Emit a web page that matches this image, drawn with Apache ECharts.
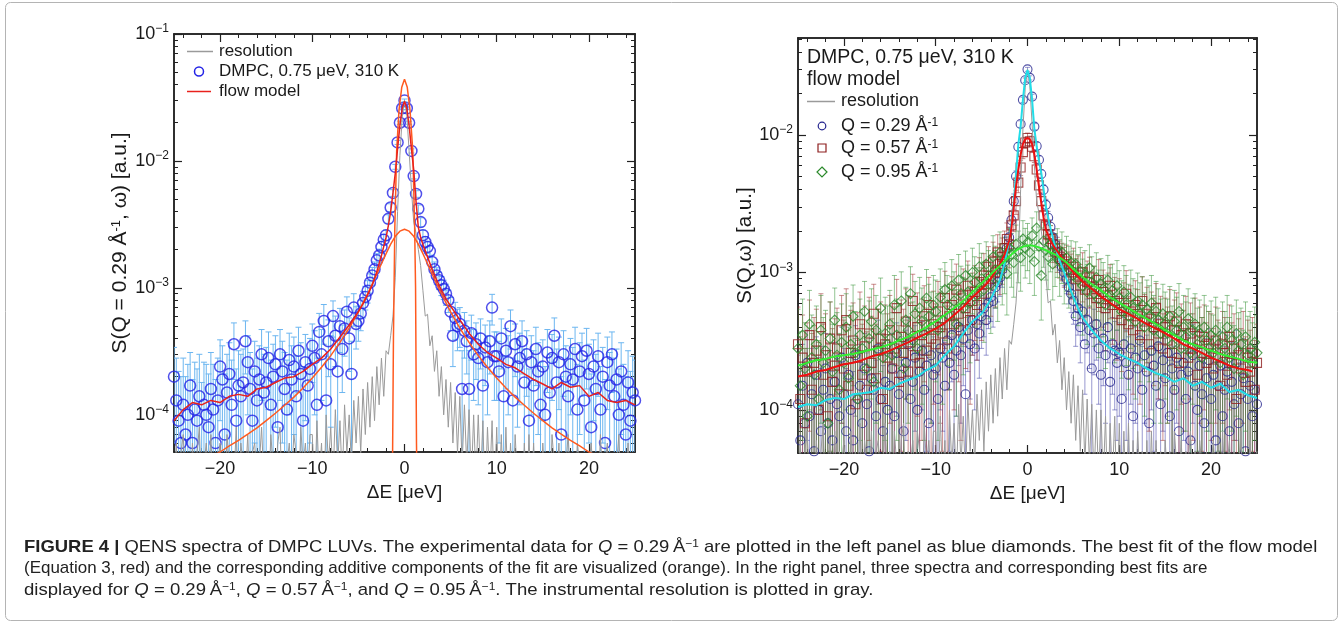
<!DOCTYPE html>
<html>
<head>
<meta charset="utf-8">
<title>QENS spectra of DMPC LUVs</title>
<script src="https://cdn.jsdelivr.net/npm/echarts@6/dist/echarts.min.js"></script>
<style>
  html, body { margin: 0; padding: 0; background: #fff; }
  #chart { width: 1344px; height: 625px; }
</style>
</head>
<body>
<div id="chart"></div>
<script>
// all intensities below are in units of 1e-5 (a.u.)
const UNIT = 1e-5;

// energy transfer channels, -25 .. 25 ueV in 0.25 steps (201 channels)
const energies = [];
for (let i = 0; i <= 200; i++) energies.push(-25 + i * 0.25);

const xMajor = [-20, -10, 0, 10, 20];
const xMinor = [-24, -22, -18, -16, -14, -12, -8, -6, -4, -2, 2, 4, 6, 8, 12, 14, 16, 18, 22, 24];
const yMajor = [1e-4, 1e-3, 1e-2, 1e-1];
const yMinor = [6e-5, 7e-5, 8e-5, 9e-5,
  2e-4, 3e-4, 4e-4, 5e-4, 6e-4, 7e-4, 8e-4, 9e-4,
  2e-3, 3e-3, 4e-3, 5e-3, 6e-3, 7e-3, 8e-3, 9e-3,
  2e-2, 3e-2, 4e-2, 5e-2, 6e-2, 7e-2, 8e-2, 9e-2];

// instrumental resolution (gray)
const resolution = [
  3,6,2,5,7,3,4,2,6,3,5,8,2,4,6,3,7,2,5,4,
  6,3,2,7,4,5,3,8,2,6,4,3,7,2,5,6,3,4,8,3,
  5,2,7,4,3,6,8,2,5,4,6,3,7,5,2,8,4,6,3,7,
  7,2,9,3,6,2,10,4,8,3,11,4,9,3,12,5,10,4,13,6,
  14,5,16,7,18,8,20,9,24,12,28,14,32,30,42,60,120,400,1100,2200,
  3000,2300,1200,600,330,270,200,150,95,60,62,35,42,22,32,14,24,10,19,8,
  18,6,15,5,14,4,12,4,11,3,10,3,10,3,9,2,8,3,9,2,
  8,2,7,2,8,2,6,2,7,3,5,2,6,2,7,2,6,2,5,2,
  6,3,5,2,7,4,3,6,2,5,4,7,3,5,2,6,4,3,5,2,
  4,6,3,5,2,7,3,4,6,2,5,3,4,7,2,5,3,6,2,4,
  5];

// left panel: DMPC, Q = 0.29 1/A
const dmpc = [
  20,13,9,6,12,7,10,17,6,11,9,14,5,12,10,8,16,11,6,13,
  24,19,7,15,21,12,36,9,17,14,18,38,26,16,9,22,13,19,30,15,
  18,28,12,20,25,8,30,22,16,11,27,19,24,14,32,21,9,26,17,23,
  35,28,12,45,30,55,13,38,25,60,42,22,50,33,48,65,40,21,70,52,
  55,63,76,85,95,110,125,140,165,180,210,240,260,350,430,560,900,1400,2000,2600,
  3000,2600,2000,1200,760,550,420,330,260,230,210,195,160,140,125,115,105,98,90,80,
  65,42,58,50,52,16,46,38,16,44,30,36,28,40,17,34,26,38,70,29,
  29,22,40,14,32,26,50,13,36,24,28,38,18,30,9,26,17,33,22,12,
  24,10,31,15,28,42,18,26,7,30,20,14,25,19,33,11,22,29,13,32,
  21,8,24,16,29,11,20,6,26,17,30,14,19,10,22,12,7,18,9,15,
  13];
const dmpcErr = [
  14,15,13,14,16,13,15,14,13,15,14,16,13,14,15,13,15,14,13,15,
  15,16,14,15,16,15,17,14,15,16,15,17,16,15,14,16,15,16,17,15,
  16,17,15,16,17,15,17,16,15,16,17,16,17,15,17,16,15,17,16,17,
  17,18,16,18,17,19,16,18,17,19,18,17,19,18,19,20,18,17,20,19,
  17,17,18,18,19,19,20,20,21,22,23,24,25,27,30,34,40,50,60,70,
  75,65,55,45,38,33,30,27,25,24,23,22,21,20,19,18,18,17,17,16,
  19,18,19,18,18,16,18,17,16,17,17,17,16,17,16,17,16,17,19,16,
  16,16,17,15,16,16,17,15,16,16,16,17,15,16,14,16,15,16,15,14,
  15,14,16,15,15,16,15,15,13,16,15,14,15,15,16,14,15,15,14,16,
  15,13,15,14,15,13,14,13,15,14,15,14,14,13,15,13,13,14,13,14,
  14];

const flowX = [-25,-24,-23,-22,-21,-20,-19,-18,-17,-16,-15,-14,-13,-12,-11,-10,-9,-8,-7,-6,-5,-4.5,-4,-3.5,-3,-2.5,-2,-1.75,-1.5,-1.25,-1,-0.75,-0.5,-0.25,0,0.25,0.5,0.75,1,1.25,1.5,1.75,2,2.5,3,3.5,4,4.5,5,6,7,8,9,10,11,12,13,14,15,16,17,18,19,20,21,22,23,24,25];
const flowFit = [9,11,12.5,12,13,12.5,14,14.5,14,16,16.5,18,19.5,20,22,25,28,33,41,51,65,75,88,105,135,180,250,310,400,560,800,1250,1900,2600,2950,2600,1900,1250,850,480,300,250,220,175,140,115,96,82,72,56,44,36,31,28,25,23.5,21,19,17.5,16,18,16.5,17,14,15,13,12.5,13,12];

const broadX = [-25,-24,-23,-22,-21,-20,-19,-18,-17,-16,-15,-14,-13,-12,-11,-10,-9,-8,-7,-6,-5,-4,-3.5,-3,-2.5,-2,-1.5,-1,-0.5,0,0.5,1,1.5,2,2.5,3,3.5,4,5,6,7,8,9,10,11,12,13,14,15,16,17,18,19,20,21,22,23,24,25];
const broadFit = [3.3,3.6,3.9,4.25,4.7,5.1,5.7,6.3,7.05,7.9,9,10.3,11.9,13.8,16.3,19.5,23.7,29.3,37.2,48.3,64.8,90,107,129,155,186,221,255,280,290,280,255,221,186,155,129,107,90,64.8,48.3,37.2,29.3,23.7,19.5,16.3,13.8,11.9,10.3,9,7.9,7.05,6.3,5.7,5.1,4.7,4.25,3.9,3.6,3.3];

const narrowX = [-1.5,-1.3,-1.2,-1.05,-0.85,-0.6,-0.3,0,0.3,0.6,0.9,1.1,1.2,1.3,1.5];
const narrowFit = [0.5,4,40,300,1200,2500,3800,4400,3800,2500,1200,300,100,6,0.5];

// right panel: three momentum transfers
const q029 = [
  11,6,15,8,22,9,13,5,18,10,7,14,20,8,12,6,16,11,9,24,
  13,7,18,10,6,25,12,15,8,20,11,5,17,14,9,28,12,7,16,10,
  15,20,9,26,13,18,7,22,30,12,16,24,10,19,27,14,21,8,25,18,
  20,12,28,24,15,32,22,35,18,27,40,25,33,13,38,30,45,28,42,36,
  48,55,45,60,66,62,78,85,92,105,120,150,180,240,330,500,820,1200,1800,2500,
  3000,2600,1900,1150,830,660,520,400,310,250,215,180,160,140,125,110,100,90,78,70,
  62,48,55,40,52,30,45,38,20,36,42,28,18,33,25,40,16,30,27,22,
  26,12,30,22,18,28,9,24,20,32,14,25,19,8,27,21,15,29,11,23,
  17,26,9,20,14,24,7,18,22,12,19,6,25,15,10,21,13,8,17,23,
  12,18,6,15,21,9,14,19,7,16,11,22,8,13,17,5,12,15,9,14,
  11];
const q029Err = [
  14,13,15,14,16,13,15,13,16,14,13,15,16,14,15,13,15,14,13,16,
  15,13,16,14,13,16,15,15,14,16,15,13,16,15,14,17,15,14,16,15,
  16,16,15,17,15,16,14,16,17,15,16,17,15,16,17,16,16,15,17,16,
  17,16,18,17,16,18,17,19,16,18,19,17,18,16,19,18,20,18,19,19,
  20,21,20,21,22,22,23,24,25,27,29,31,34,38,42,48,56,66,80,95,
  100,90,75,60,50,42,37,33,30,28,26,25,24,23,22,21,20,20,19,19,
  20,19,20,18,20,17,19,18,16,18,19,17,16,18,17,18,16,17,17,16,
  17,15,17,16,16,17,14,16,16,17,15,17,16,14,17,16,15,17,15,16,
  16,17,14,16,15,16,13,16,16,15,16,13,17,15,14,16,15,14,16,16,
  15,16,13,15,16,14,15,16,13,15,15,16,14,15,16,13,15,15,14,15,
  15];
const q057 = [
  30,12,24,8,19,35,14,22,27,10,40,18,25,9,33,16,21,28,13,38,
  20,45,15,26,32,11,24,42,18,29,14,36,22,50,17,27,33,12,30,24,
  38,20,28,55,16,34,26,44,19,31,62,25,40,22,35,48,27,58,33,42,
  30,52,40,36,65,28,48,58,42,75,50,38,68,55,80,45,62,72,58,85,
  70,95,82,110,90,120,100,140,115,130,150,175,160,220,260,330,450,580,750,880,
  950,900,820,700,560,430,330,260,220,190,175,160,150,140,130,125,115,120,105,100,
  110,90,95,80,100,75,85,92,70,78,65,88,60,72,55,68,80,58,62,50,
  60,45,55,70,42,52,38,58,48,35,62,44,50,30,46,40,55,36,42,28,
  40,32,48,26,38,44,22,35,30,42,24,36,28,40,18,32,26,34,22,30,
  28,20,32,24,15,30,26,18,34,22,28,12,25,20,30,16,24,19,26,14,
  22];
const q057Err = [
  26,22,25,20,24,28,22,25,27,21,30,24,25,21,28,23,25,27,22,30,
  25,31,23,27,28,22,27,30,24,28,23,30,26,32,25,27,28,23,28,26,
  30,26,28,34,25,29,28,32,26,29,35,27,31,26,29,32,28,34,29,31,
  29,34,32,31,37,29,34,35,32,40,34,32,38,35,41,34,37,40,35,43,
  38,42,40,44,42,46,44,48,46,48,50,54,52,58,62,66,70,74,78,80,
  82,80,76,70,64,58,54,50,47,45,44,42,41,40,39,38,37,38,36,36,
  40,36,37,34,39,33,36,37,32,33,31,36,29,32,28,31,34,28,30,27,
  30,26,29,33,25,28,25,29,27,24,31,25,28,23,26,25,28,24,25,22,
  25,24,27,22,25,27,21,24,23,25,21,24,22,25,20,24,21,24,21,22,
  22,19,24,21,18,22,21,19,24,21,22,18,21,19,22,18,21,19,21,18,
  20];
const q095 = [
  28,15,35,20,9,42,24,18,30,12,38,22,27,8,33,19,45,25,14,31,
  22,40,17,30,48,26,12,35,28,52,20,33,44,16,38,27,55,24,36,30,
  42,25,58,35,30,62,20,45,38,70,32,50,28,55,44,36,65,48,40,58,
  52,38,66,45,75,58,48,80,62,42,88,70,55,95,72,60,100,85,68,110,
  90,75,115,95,82,130,105,92,140,110,125,98,150,135,118,160,142,128,175,150,
  165,140,185,120,210,155,95,170,145,130,160,115,135,150,120,140,110,128,105,118,
  95,115,88,102,80,96,72,108,85,70,92,64,82,76,58,88,68,74,60,80,
  65,52,72,58,48,66,55,44,62,50,58,40,54,48,60,38,52,45,36,50,
  42,36,48,30,44,38,52,28,40,34,46,26,38,42,30,36,24,40,32,28,
  35,26,38,30,22,34,28,40,24,32,20,36,27,30,18,34,25,28,22,31,
  26];
const q095Err = [
  26,22,29,23,19,32,25,23,27,20,30,25,26,19,28,23,32,26,22,28,
  25,30,23,27,33,26,20,29,26,34,25,29,32,23,30,27,36,26,30,27,
  32,26,37,29,27,39,25,33,30,40,29,36,27,37,33,30,40,34,32,37,
  36,32,40,34,43,37,34,44,39,33,47,41,37,48,41,38,50,45,40,52,
  48,44,52,49,46,55,50,48,57,52,55,49,59,57,52,61,58,55,63,59,
  62,57,64,52,66,59,50,61,57,55,59,52,56,58,53,57,51,55,50,52,
  48,52,47,50,45,48,42,51,45,41,47,40,44,42,38,45,40,41,38,42,
  38,35,40,37,34,38,35,32,37,34,35,31,34,32,35,30,34,31,28,32,
  30,28,31,27,30,28,31,25,28,27,30,24,27,28,25,27,23,28,25,24,
  27,23,28,25,21,27,24,28,23,25,21,27,24,25,20,27,23,24,21,25,
  23];

const fit029X = [-25,-24,-23,-22,-21,-20,-19,-18,-17,-16,-15,-14,-13,-12,-11,-10,-9,-8,-7,-6,-5,-4.5,-4,-3.5,-3,-2.5,-2,-1.75,-1.5,-1.25,-1,-0.75,-0.5,-0.25,0,0.25,0.5,0.75,1,1.25,1.5,1.75,2,2.5,3,3.5,4,4.5,5,5.5,6,7,8,9,10,11,12,13,14,15,16,17,18,19,20,21,22,23,24,25];
const fit029 = [10.5,11,10.8,11.8,12.2,12,13,13.2,13.5,14.5,14.2,15.5,16.5,17.5,19.5,21,25,29,36,44,50,56,64,75,88,115,170,230,320,520,850,1150,1800,2600,2970,2600,1800,1100,820,650,530,400,300,210,155,122,100,80,66,55,47,38,32,28,25.5,23.5,22,20,18.5,17.5,16,17,15,16,14.5,15.5,13.5,14,12.8,12.2];
const fit057X = [-25,-24,-23,-22,-21,-20,-19,-18,-17,-16,-15,-14,-13,-12,-11,-10,-9,-8,-7,-6,-5,-4.5,-4,-3.5,-3,-2.5,-2,-1.75,-1.5,-1.25,-1,-0.75,-0.5,-0.25,0,0.25,0.5,0.75,1,1.25,1.5,1.75,2,2.5,3,3.5,4,4.5,5,6,7,8,9,10,11,12,13,14,15,16,17,18,19,20,21,22,23,24,24.5];
const fit057 = [17.5,18,19,19.5,20.5,21.5,22,23,24.5,25.5,27,29,31,33.5,36,39,43,49,56,66,76,82,90,102,115,135,170,210,300,420,560,720,860,930,950,930,860,720,560,420,320,250,205,170,150,135,122,110,100,86,76,67,60,54,50,46,42,39,36,33,30,28,26,24,22.5,21,20,19.5,19];
const fit095X = [-25,-24,-23,-22,-21,-20,-19,-18,-17,-16,-15,-14,-13,-12,-11,-10,-9,-8,-7,-6,-5,-4,-3,-2,-1.5,-1,-0.5,0,0.5,1,1.5,2,3,4,5,6,7,8,9,10,11,12,13,14,15,16,17,18,19,20,21,22,23,24,25];
const fit095 = [21,22,23,23.5,24.5,25,25.5,26.5,27.5,28.5,30,32,34,37,40,44,49,55,62,72,83,97,112,130,140,148,154,157,157,154,150,145,135,122,106,93,82,74,66,60,55,50,46,42,38,35,32,30,28.5,27,25.5,24.5,23.5,22.5,22];

const captionLines = [
  '{b|FIGURE 4 |} QENS spectra of DMPC LUVs. The experimental data for {i|Q} = 0.29\u2009Å{s|\u22121} are plotted in the left panel as blue diamonds. The best fit of the flow model',
  '(Equation 3, red) and the corresponding additive components of the fit are visualized (orange). In the right panel, three spectra and corresponding best fits are',
  'displayed for {i|Q} = 0.29\u2009Å{s|\u22121}, {i|Q} = 0.57\u2009Å{s|\u22121}, and {i|Q} = 0.95\u2009Å{s|\u22121}. The instrumental resolution is plotted in gray.'
];

const FONT = "'Liberation Sans', Arial, Helvetica, sans-serif";
const INK = '#1a1a1a';

const toPts = (xs, ys) => xs.map((x, i) => [x, ys[i] * UNIT]);
const toBars = (xs, ys, es) => xs.map((x, i) => [x, Math.max((ys[i] - es[i]) * UNIT, 1e-7), (ys[i] + es[i]) * UNIT]);

const fmtX = v => (v < 0 ? '\u2212' + Math.abs(v) : String(v));
const fmtPow = v => '{b|10}{s|\u2212' + Math.abs(Math.round(Math.log10(v))) + '}';
const powRich = {
  b: { fontSize: 18, color: INK, fontFamily: FONT, lineHeight: 22 },
  s: { fontSize: 12, color: INK, fontFamily: FONT, verticalAlign: 'top', lineHeight: 14 }
};

function xAxes(gi) {
  const base = {
    gridIndex: gi, type: 'value', min: -25, max: 25,
    splitLine: { show: false },
    axisLine: { show: true, onZero: false, lineStyle: { color: '#222', width: 1.5 } }
  };
  const major = { inside: true, length: 8, customValues: xMajor, lineStyle: { color: '#222', width: 1.2 } };
  const minor = { inside: true, length: 4, customValues: xMinor, lineStyle: { color: '#222', width: 1 } };
  return [
    Object.assign({}, base, {
      position: 'bottom', name: '\u0394E [\u03bceV]', nameLocation: 'middle', nameGap: 31,
      nameTextStyle: { fontSize: 19, color: INK, fontFamily: FONT },
      axisTick: major,
      axisLabel: { customValues: xMajor, formatter: fmtX, fontSize: 18, color: INK, fontFamily: FONT, margin: 8 }
    }),
    Object.assign({}, base, { position: 'bottom', axisTick: minor, axisLabel: { show: false } }),
    Object.assign({}, base, { position: 'top', axisTick: major, axisLabel: { show: false } }),
    Object.assign({}, base, { position: 'top', axisTick: minor, axisLabel: { show: false } })
  ];
}

function yAxes(gi, min, max, name, nameGap, nameSize) {
  const base = {
    gridIndex: gi, type: 'log', logBase: 10, min: min, max: max,
    splitLine: { show: false },
    axisLine: { show: true, onZero: false, lineStyle: { color: '#222', width: 1.5 } }
  };
  const major = { inside: true, length: 8, customValues: yMajor, lineStyle: { color: '#222', width: 1.2 } };
  const minor = { inside: true, length: 4, customValues: yMinor, lineStyle: { color: '#222', width: 1 } };
  return [
    Object.assign({}, base, {
      position: 'left', name: name, nameLocation: 'middle', nameGap: nameGap, nameRotate: 90,
      nameTextStyle: {
        fontSize: nameSize, color: INK, fontFamily: FONT,
        rich: { s: { fontSize: 13, color: INK, fontFamily: FONT, verticalAlign: 'top', lineHeight: 14 } }
      },
      axisTick: major,
      axisLabel: { customValues: yMajor, formatter: fmtPow, margin: 5, rich: powRich }
    }),
    Object.assign({}, base, { position: 'left', axisTick: minor, axisLabel: { show: false } }),
    Object.assign({}, base, { position: 'right', axisTick: major, axisLabel: { show: false } }),
    Object.assign({}, base, { position: 'right', axisTick: minor, axisLabel: { show: false } })
  ];
}

function errorBars(name, axis, data, color, cap) {
  return {
    type: 'custom', name: name, xAxisIndex: axis, yAxisIndex: axis, clip: true, silent: true,
    encode: { x: 0, y: [1, 2] },
    renderItem: function (params, api) {
      const x = api.value(0);
      const lo = api.coord([x, api.value(1)]);
      const hi = api.coord([x, api.value(2)]);
      const st = { stroke: color, lineWidth: 1 };
      return {
        type: 'group',
        children: [
          { type: 'line', shape: { x1: lo[0], y1: lo[1], x2: hi[0], y2: hi[1] }, style: st },
          { type: 'line', shape: { x1: hi[0] - cap, y1: hi[1], x2: hi[0] + cap, y2: hi[1] }, style: st },
          { type: 'line', shape: { x1: lo[0] - cap, y1: lo[1], x2: lo[0] + cap, y2: lo[1] }, style: st }
        ]
      };
    },
    data: data
  };
}

function points(name, axis, data, symbol, size, color, width) {
  return {
    type: 'scatter', name: name, xAxisIndex: axis, yAxisIndex: axis, symbol: symbol, symbolSize: size,
    itemStyle: { color: 'rgba(0,0,0,0)', borderColor: color, borderWidth: width },
    silent: true, data: data
  };
}

function curve(name, axis, data, color, width) {
  return {
    type: 'line', name: name, xAxisIndex: axis, yAxisIndex: axis, showSymbol: false, symbol: 'none',
    lineStyle: { color: color, width: width }, silent: true, data: data
  };
}

const supRich = { s: { fontSize: 12, fontFamily: FONT, fill: INK, verticalAlign: 'top', lineHeight: 12 } };
function label(x, y, text, size) {
  return { type: 'text', x: x, y: y, style: { text: text, fontSize: size, fontFamily: FONT, fill: INK, verticalAlign: 'middle', rich: supRich } };
}
function legendLine(x1, x2, y, color) {
  return { type: 'line', shape: { x1: x1, y1: y, x2: x2, y2: y }, style: { stroke: color, lineWidth: 1.5 } };
}

const capRich = {
  b: { fontWeight: 'bold', fontSize: 17, fontFamily: FONT, fill: '#222' },
  i: { fontStyle: 'italic', fontSize: 17, fontFamily: FONT, fill: '#222' },
  s: { fontSize: 11, fontFamily: FONT, fill: '#222', verticalAlign: 'top', lineHeight: 12 }
};
function captionLine(y, text, sx) {
  return {
    type: 'text', x: 24, y: y, scaleX: sx,
    style: { text: text, fontSize: 17, fontFamily: FONT, fill: '#222', verticalAlign: 'middle', rich: capRich }
  };
}

const chart = echarts.init(document.getElementById('chart'));
chart.setOption({
  animation: false,
  backgroundColor: '#fff',
  grid: [
    { left: 174, top: 34, width: 461, height: 418, outerBoundsMode: 'none' },
    { left: 798, top: 38, width: 459, height: 415, outerBoundsMode: 'none' }
  ],
  xAxis: xAxes(0).concat(xAxes(1)),
  yAxis: yAxes(0, 5.1e-5, 0.1, 'S(Q = 0.29 Å{s|-1}, \u03c9) [a.u.]', 43, 21)
    .concat(yAxes(1, 4.86e-5, 0.0507, 'S(Q,\u03c9) [a.u.]', 41, 20.5)),
  series: [
    // left panel
    errorBars('dmpc err', 0, toBars(energies, dmpc, dmpcErr), '#6cb6f0', 3),
    curve('resolution', 0, toPts(energies, resolution), '#9a9a9a', 1),
    points('DMPC, 0.75 \u03bceV, 310 K', 0, toPts(energies, dmpc), 'circle', 11, '#2323e6', 1.5),
    curve('broad', 0, toPts(broadX, broadFit), '#ff5a1f', 1.5),
    curve('narrow', 0, toPts(narrowX, narrowFit), '#ff5a1f', 1.5),
    curve('flow model', 0, toPts(flowX, flowFit), '#e8211c', 1.5),
    // right panel
    curve('resolution R', 4, toPts(energies, resolution), '#9a9a9a', 1),
    errorBars('q029 err', 4, toBars(energies, q029, q029Err), 'rgba(70,70,170,0.55)', 2.5),
    points('Q = 0.29', 4, toPts(energies, q029), 'circle', 9, '#24248e', 1.1),
    errorBars('q057 err', 4, toBars(energies, q057, q057Err), 'rgba(160,50,50,0.55)', 2.5),
    points('Q = 0.57', 4, toPts(energies, q057), 'rect', 9, '#8e1e1e', 1.1),
    errorBars('q095 err', 4, toBars(energies, q095, q095Err), 'rgba(60,150,60,0.55)', 2.5),
    points('Q = 0.95', 4, toPts(energies, q095), 'diamond', 10, '#2b8a2b', 1.1),
    curve('fit 0.29', 4, toPts(fit029X, fit029), '#22dde8', 2),
    curve('fit 0.57', 4, toPts(fit057X, fit057), '#ee1010', 2),
    curve('fit 0.95', 4, toPts(fit095X, fit095), '#33ee33', 2)
  ],
  graphic: [
    { type: 'rect', shape: { x: 5.5, y: 2.5, width: 1332, height: 618, r: 5 }, style: { fill: 'none', stroke: '#b4b4b4', lineWidth: 1 }, z: -10 },
    // left legend
    legendLine(187, 213, 51.5, '#9a9a9a'),
    label(219, 51.5, 'resolution', 17),
    { type: 'circle', shape: { cx: 199, cy: 71.5, r: 4.5 }, style: { fill: 'none', stroke: '#2323e6', lineWidth: 1.5 } },
    label(219, 71.5, 'DMPC, 0.75 \u03bceV, 310 K', 17),
    legendLine(187, 211, 91.5, '#e8211c'),
    label(219, 91.5, 'flow model', 17),
    // right legend
    label(807, 58, 'DMPC, 0.75 \u03bceV, 310 K', 19.5),
    label(807, 80, 'flow model', 19.5),
    legendLine(807, 835, 101.5, '#9a9a9a'),
    label(841, 101.5, 'resolution', 18),
    { type: 'circle', shape: { cx: 822, cy: 126, r: 3.8 }, style: { fill: 'none', stroke: '#24248e', lineWidth: 1.2 } },
    label(841, 126, 'Q = 0.29 Å{s|-1}', 18),
    { type: 'rect', shape: { x: 818, y: 144, width: 8, height: 8 }, style: { fill: 'none', stroke: '#8e1e1e', lineWidth: 1.2 } },
    label(841, 148, 'Q = 0.57 Å{s|-1}', 18),
    { type: 'polygon', shape: { points: [[822, 167], [827, 172], [822, 177], [817, 172]] }, style: { fill: 'none', stroke: '#2b8a2b', lineWidth: 1.2 } },
    label(841, 172, 'Q = 0.95 Å{s|-1}', 18),
    // caption
    captionLine(547, captionLines[0], 1.085),
    captionLine(568, captionLines[1], 0.997),
    captionLine(590, captionLines[2], 1.091)
  ]
});
</script>
</body>
</html>
